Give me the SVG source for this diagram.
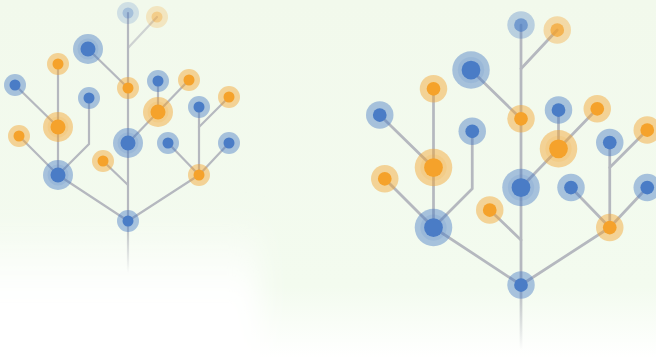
<svg xmlns="http://www.w3.org/2000/svg" width="656" height="358" viewBox="0 0 656 358">
<defs>
<style>
.e{stroke:#b5b8bf;stroke-width:2.2;fill:none;stroke-linecap:round}
.bh{fill:#4a7cc6;fill-opacity:0.45}.bm{fill:#4a7cc6;fill-opacity:0.12}.bi{fill:#4a7cc6}
.oh{fill:#f5a22b;fill-opacity:0.45}.om{fill:#f5a22b;fill-opacity:0.12}.oi{fill:#f5a22b}
</style>
<linearGradient id="bg" x1="0" y1="0" x2="0" y2="1">
<stop offset="0" stop-color="#f2f9ec"/>
<stop offset="0.8" stop-color="#f3fbef"/>
<stop offset="1" stop-color="#ffffff"/>
</linearGradient>
<linearGradient id="wf" x1="0" y1="0" x2="0" y2="1">
<stop offset="0" stop-color="#ffffff" stop-opacity="0"/>
<stop offset="0.45" stop-color="#ffffff" stop-opacity="1"/>
<stop offset="1" stop-color="#ffffff" stop-opacity="1"/>
</linearGradient>
<linearGradient id="tail" gradientUnits="userSpaceOnUse" x1="0" y1="221" x2="0" y2="273">
<stop offset="0" stop-color="#b5b8bf"/>
<stop offset="1" stop-color="#b5b8bf" stop-opacity="0"/>
</linearGradient>
<filter id="soft" x="-0.3" y="-0.3" width="1.6" height="1.6"><feGaussianBlur stdDeviation="14"/></filter>
</defs>
<rect width="656" height="358" fill="#ffffff"/>
<rect width="656" height="358" fill="url(#bg)"/>
<rect x="-40" y="215" width="300" height="180" fill="url(#wf)" filter="url(#soft)"/>

<g id="tree-left">
<g id="connectors-left">
<line class="e" x1="128" y1="13" x2="128" y2="221"/>
<line x1="128" y1="221" x2="128" y2="273" stroke="url(#tail)" stroke-width="2.2"/>
<line class="e" x1="157" y1="17" x2="128" y2="48" opacity="0.6"/>
<line class="e" x1="88" y1="49" x2="128" y2="88"/>
<line class="e" x1="158" y1="112" x2="128" y2="143"/>
<line class="e" x1="158" y1="112" x2="189" y2="80"/>
<line class="e" x1="158" y1="81" x2="158" y2="112"/>
<line class="e" x1="103" y1="161" x2="128" y2="185"/>
<line class="e" x1="128" y1="221" x2="58" y2="175"/>
<line class="e" x1="128" y1="221" x2="199" y2="175"/>
<line class="e" x1="58" y1="175" x2="58" y2="64"/>
<line class="e" x1="58" y1="127" x2="15" y2="85"/>
<line class="e" x1="58" y1="175" x2="19" y2="136"/>
<polyline class="e" points="58,175 89,144 89,98"/>
<line class="e" x1="199" y1="175" x2="168" y2="143"/>
<line class="e" x1="199" y1="175" x2="229" y2="143"/>
<line class="e" x1="199" y1="175" x2="199" y2="107"/>
<line class="e" x1="199" y1="127" x2="229" y2="97"/>
</g>
<g id="L-n1" opacity="0.45"><circle class="bh" cx="128" cy="13" r="11"/><circle class="bi" cx="128" cy="13" r="5.5"/></g>
<g id="L-n2" opacity="0.5"><circle class="oh" cx="157" cy="17" r="11"/><circle class="oi" cx="157" cy="17" r="5.5"/></g>
<g id="L-n3"><circle class="bh" cx="88" cy="49" r="15"/><circle class="bm" cx="88" cy="49" r="10.5"/><circle class="bi" cx="88" cy="49" r="7.5"/></g>
<g id="L-n4"><circle class="oh" cx="58" cy="64" r="11"/><circle class="oi" cx="58" cy="64" r="5.5"/></g>
<g id="L-n5"><circle class="bh" cx="15" cy="85" r="11"/><circle class="bi" cx="15" cy="85" r="5.5"/></g>
<g id="L-n6"><circle class="oh" cx="128" cy="88" r="11"/><circle class="oi" cx="128" cy="88" r="5.5"/></g>
<g id="L-n7"><circle class="bh" cx="158" cy="81" r="11"/><circle class="bi" cx="158" cy="81" r="5.5"/></g>
<g id="L-n8"><circle class="oh" cx="189" cy="80" r="11"/><circle class="oi" cx="189" cy="80" r="5.5"/></g>
<g id="L-n9"><circle class="bh" cx="89" cy="98" r="11"/><circle class="bi" cx="89" cy="98" r="5.5"/></g>
<g id="L-n10"><circle class="oh" cx="158" cy="112" r="15"/><circle class="om" cx="158" cy="112" r="10.5"/><circle class="oi" cx="158" cy="112" r="7.5"/></g>
<g id="L-n11"><circle class="bh" cx="199" cy="107" r="11"/><circle class="bi" cx="199" cy="107" r="5.5"/></g>
<g id="L-n12"><circle class="oh" cx="229" cy="97" r="11"/><circle class="oi" cx="229" cy="97" r="5.5"/></g>
<g id="L-n13"><circle class="oh" cx="58" cy="127" r="15"/><circle class="om" cx="58" cy="127" r="10.5"/><circle class="oi" cx="58" cy="127" r="7.5"/></g>
<g id="L-n14"><circle class="oh" cx="19" cy="136" r="11"/><circle class="oi" cx="19" cy="136" r="5.5"/></g>
<g id="L-n15"><circle class="bh" cx="128" cy="143" r="15"/><circle class="bm" cx="128" cy="143" r="10.5"/><circle class="bi" cx="128" cy="143" r="7.5"/></g>
<g id="L-n16"><circle class="bh" cx="168" cy="143" r="11"/><circle class="bi" cx="168" cy="143" r="5.5"/></g>
<g id="L-n17"><circle class="bh" cx="229" cy="143" r="11"/><circle class="bi" cx="229" cy="143" r="5.5"/></g>
<g id="L-n18"><circle class="oh" cx="103" cy="161" r="11"/><circle class="oi" cx="103" cy="161" r="5.5"/></g>
<g id="L-n19"><circle class="bh" cx="58" cy="175" r="15"/><circle class="bm" cx="58" cy="175" r="10.5"/><circle class="bi" cx="58" cy="175" r="7.5"/></g>
<g id="L-n20"><circle class="oh" cx="199" cy="175" r="11"/><circle class="oi" cx="199" cy="175" r="5.5"/></g>
<g id="L-n21"><circle class="bh" cx="128" cy="221" r="11"/><circle class="bi" cx="128" cy="221" r="5.5"/></g>
</g>

<g id="tree-right" transform="translate(361,8.75) scale(1.25)">
<g id="connectors-right">
<line class="e" x1="128" y1="13" x2="128" y2="221"/>
<line x1="128" y1="221" x2="128" y2="273" stroke="url(#tail)" stroke-width="2.2"/>
<line class="e" x1="157" y1="17" x2="128" y2="48"/>
<line class="e" x1="88" y1="49" x2="128" y2="88"/>
<line class="e" x1="158" y1="112" x2="128" y2="143"/>
<line class="e" x1="158" y1="112" x2="189" y2="80"/>
<line class="e" x1="158" y1="81" x2="158" y2="112"/>
<line class="e" x1="103" y1="161" x2="128" y2="185"/>
<line class="e" x1="128" y1="221" x2="58" y2="175"/>
<line class="e" x1="128" y1="221" x2="199" y2="175"/>
<line class="e" x1="58" y1="175" x2="58" y2="64"/>
<line class="e" x1="58" y1="127" x2="15" y2="85"/>
<line class="e" x1="58" y1="175" x2="19" y2="136"/>
<polyline class="e" points="58,175 89,144 89,98"/>
<line class="e" x1="199" y1="175" x2="168" y2="143"/>
<line class="e" x1="199" y1="175" x2="229" y2="143"/>
<line class="e" x1="199" y1="175" x2="199" y2="107"/>
<line class="e" x1="199" y1="127" x2="229" y2="97"/>
</g>
<g id="R-n1" opacity="0.75"><circle class="bh" cx="128" cy="13" r="11"/><circle class="bi" cx="128" cy="13" r="5.5"/></g>
<g id="R-n2" opacity="0.8"><circle class="oh" cx="157" cy="17" r="11"/><circle class="oi" cx="157" cy="17" r="5.5"/></g>
<g id="R-n3"><circle class="bh" cx="88" cy="49" r="15"/><circle class="bm" cx="88" cy="49" r="10.5"/><circle class="bi" cx="88" cy="49" r="7.5"/></g>
<g id="R-n4"><circle class="oh" cx="58" cy="64" r="11"/><circle class="oi" cx="58" cy="64" r="5.5"/></g>
<g id="R-n5"><circle class="bh" cx="15" cy="85" r="11"/><circle class="bi" cx="15" cy="85" r="5.5"/></g>
<g id="R-n6"><circle class="oh" cx="128" cy="88" r="11"/><circle class="oi" cx="128" cy="88" r="5.5"/></g>
<g id="R-n7"><circle class="bh" cx="158" cy="81" r="11"/><circle class="bi" cx="158" cy="81" r="5.5"/></g>
<g id="R-n8"><circle class="oh" cx="189" cy="80" r="11"/><circle class="oi" cx="189" cy="80" r="5.5"/></g>
<g id="R-n9"><circle class="bh" cx="89" cy="98" r="11"/><circle class="bi" cx="89" cy="98" r="5.5"/></g>
<g id="R-n10"><circle class="oh" cx="158" cy="112" r="15"/><circle class="om" cx="158" cy="112" r="10.5"/><circle class="oi" cx="158" cy="112" r="7.5"/></g>
<g id="R-n11"><circle class="bh" cx="199" cy="107" r="11"/><circle class="bi" cx="199" cy="107" r="5.5"/></g>
<g id="R-n12"><circle class="oh" cx="229" cy="97" r="11"/><circle class="oi" cx="229" cy="97" r="5.5"/></g>
<g id="R-n13"><circle class="oh" cx="58" cy="127" r="15"/><circle class="om" cx="58" cy="127" r="10.5"/><circle class="oi" cx="58" cy="127" r="7.5"/></g>
<g id="R-n14"><circle class="oh" cx="19" cy="136" r="11"/><circle class="oi" cx="19" cy="136" r="5.5"/></g>
<g id="R-n15"><circle class="bh" cx="128" cy="143" r="15"/><circle class="bm" cx="128" cy="143" r="10.5"/><circle class="bi" cx="128" cy="143" r="7.5"/></g>
<g id="R-n16"><circle class="bh" cx="168" cy="143" r="11"/><circle class="bi" cx="168" cy="143" r="5.5"/></g>
<g id="R-n17"><circle class="bh" cx="229" cy="143" r="11"/><circle class="bi" cx="229" cy="143" r="5.5"/></g>
<g id="R-n18"><circle class="oh" cx="103" cy="161" r="11"/><circle class="oi" cx="103" cy="161" r="5.5"/></g>
<g id="R-n19"><circle class="bh" cx="58" cy="175" r="15"/><circle class="bm" cx="58" cy="175" r="10.5"/><circle class="bi" cx="58" cy="175" r="7.5"/></g>
<g id="R-n20"><circle class="oh" cx="199" cy="175" r="11"/><circle class="oi" cx="199" cy="175" r="5.5"/></g>
<g id="R-n21"><circle class="bh" cx="128" cy="221" r="11"/><circle class="bi" cx="128" cy="221" r="5.5"/></g>
</g>
</svg>
